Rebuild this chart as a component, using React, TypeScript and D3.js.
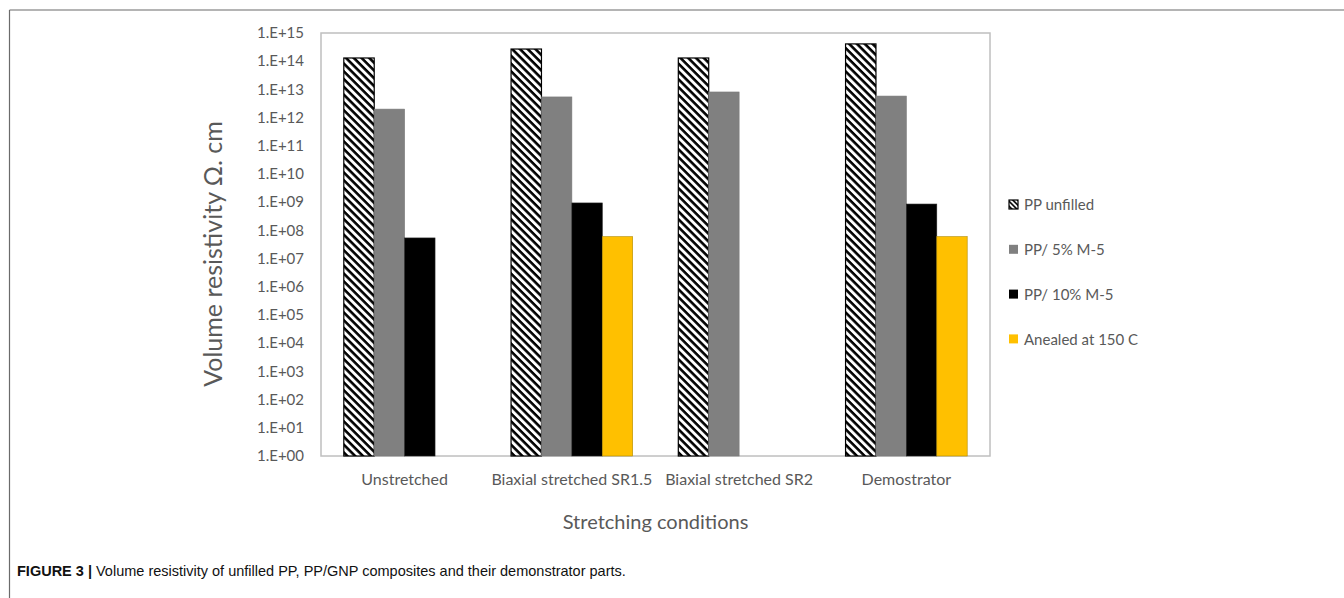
import React from "react";
import * as d3 from "d3";

const categories = ["Unstretched", "Biaxial stretched SR1.5", "Biaxial stretched SR2", "Demostrator"];
const seriesNames = ["PP unfilled", "PP/ 5% M-5", "PP/ 10% M-5", "Anealed at 150 C"];
const ppUnfilled = [1.3e14, 2.7e14, 1.3e14, 4.1e14];
const pp5 = [2.0e12, 5.4e12, 8.1e12, 5.8e12];
const pp10: (number | null)[] = [5.4e7, 9.4e8, null, 8.6e8];
const annealed: (number | null)[] = [null, 6.0e7, null, 6.0e7];
const exponents = d3.range(0, 16);

const seriesValues: (number | null)[][] = [ppUnfilled, pp5, pp10, annealed];
const fills = ["url(#hatch)", "#808080", "#000000", "#FFC000"];
const strokes = ["#000000", "#7a7a7a", "#222222", "#b08a00"];

const W = 1344;
const H = 598;
const plot = { left: 321, right: 990, top: 33, bottom: 456 };
const font = "Lato, 'Open Sans', sans-serif";
const textColor = "#595959";

export default function App() {
  const x0 = d3.scaleBand<string>().domain(categories).range([plot.left, plot.right]).paddingInner(0).paddingOuter(0);
  const x1 = d3.scaleBand<string>().domain(seriesNames).range([0, x0.bandwidth()]).paddingInner(0).paddingOuter(0.75);
  const y = d3.scaleLog().domain([1, 1e15]).range([plot.bottom, plot.top]);

  const fmt = (e: number) => "1.E+" + (e < 10 ? "0" + e : String(e));

  return (
    <svg width={W} height={H} style={{ position: "absolute", left: 0, top: 0, background: "#fff" }}>
      <defs>
        <pattern id="hatch" patternUnits="userSpaceOnUse" width="5.5" height="5.5" patternTransform="rotate(45)">
          <rect width="5.5" height="5.5" fill="#fff" />
          <rect x="0" y="0" width="5.5" height="2.6" fill="#000" />
        </pattern>
        <pattern id="hatchLegend" patternUnits="userSpaceOnUse" width="3.5" height="3.5" patternTransform="rotate(45)">
          <rect width="3.5" height="3.5" fill="#fff" />
          <rect x="0" y="0" width="3.5" height="1.6" fill="#000" />
        </pattern>
      </defs>
      <rect x={0} y={0} width={W} height={H} fill="#fff" />
      {/* outer frame */}
      <line x1={9.5} y1={10} x2={W} y2={10} stroke="#6b6b6b" strokeWidth={1.2} />
      <line x1={9.5} y1={10} x2={9.5} y2={H} stroke="#6b6b6b" strokeWidth={1.2} />

      {/* plot border */}
      <rect x={plot.left} y={plot.top} width={plot.right - plot.left} height={plot.bottom - plot.top}
        fill="none" stroke="#bfbfbf" strokeWidth={1.5} />

      {/* y ticks */}
      {exponents.map((e) => (
        <text key={e} x={304} y={y(Math.pow(10, e))} dy="0.35em" textAnchor="end"
          fontFamily={font} fontSize={15} fill={textColor}>{fmt(e)}</text>
      ))}

      {/* bars */}
      {categories.map((c, ci) => (
        <g key={c} transform={`translate(${x0(c)},0)`}>
          {seriesNames.map((s, si) => {
            const v = seriesValues[si][ci];
            if (v == null) return null;
            const top = y(v);
            return (
              <rect key={s} x={x1(s)} y={top} width={x1.bandwidth()} height={plot.bottom - top}
                fill={fills[si]} stroke={strokes[si]} strokeWidth={si === 0 ? 1.2 : 0.6} />
            );
          })}
        </g>
      ))}

      {/* x labels */}
      {categories.map((c) => (
        <text key={c} x={(x0(c) as number) + x0.bandwidth() / 2} y={485} textAnchor="middle"
          fontFamily={font} fontSize={16} fill={textColor}>{c}</text>
      ))}

      {/* axis titles */}
      <text x={(plot.left + plot.right) / 2} y={529} textAnchor="middle" fontFamily={font} fontSize={20} fill={textColor}>
        Stretching conditions
      </text>
      <text transform="translate(222,254) rotate(-90)" textAnchor="middle" fontFamily={font} fontSize={25} fill={textColor}>
        Volume resistivity Ω. cm
      </text>

      {/* legend */}
      {seriesNames.map((s, i) => (
        <g key={s} transform={`translate(1009,${205 + i * 44.8})`}>
          <rect x={0} y={-5} width={9} height={9} fill={i === 0 ? "url(#hatchLegend)" : fills[i]}
            stroke={i === 0 ? "#000" : "none"} strokeWidth={1.2} />
          <text x={15} y={0} dy="0.35em" fontFamily={font} fontSize={15} fill={textColor}>{s}</text>
        </g>
      ))}

      {/* caption */}
      <text x={17} y={576} fontFamily="'Liberation Sans', Arial, sans-serif" fontSize={14.5} fill="#111">
        <tspan fontWeight="bold">FIGURE 3 | </tspan>
        <tspan>Volume resistivity of unfilled PP, PP/GNP composites and their demonstrator parts.</tspan>
      </text>
    </svg>
  );
}
